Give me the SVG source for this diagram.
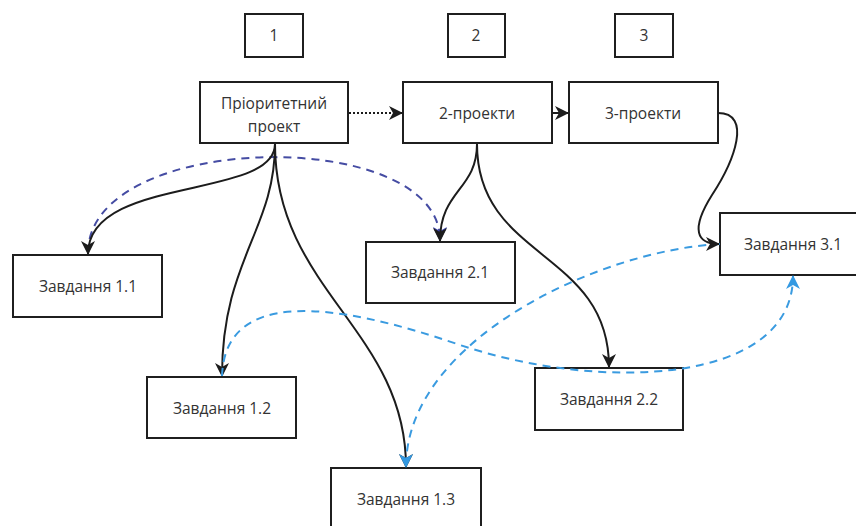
<svg xmlns="http://www.w3.org/2000/svg" width="856" height="526" viewBox="0 0 856 526">
  <style>
    .box { fill: #ffffff; stroke: #1f1f1f; stroke-width: 2; }
    .lbl { font-family: "Open Sans", "Noto Sans", "Liberation Sans", sans-serif; font-size: 15.5px; fill: #333333; text-anchor: middle; dominant-baseline: central; }
    .flow { fill: none; stroke: #1c1c1c; stroke-width: 2; }
    .dot { fill: none; stroke: #1c1c1c; stroke-width: 2; stroke-dasharray: 2 2; }
    .dark { fill: none; stroke: #454ca3; stroke-width: 2; stroke-dasharray: 8 6; }
    .light { fill: none; stroke: #3a9be0; stroke-width: 2; stroke-dasharray: 8 6; }
  </style>
  <defs>
    <marker id="arrBlack" viewBox="0 0 14 14" markerWidth="14" markerHeight="14" refX="13" refY="7" orient="auto" markerUnits="userSpaceOnUse">
      <path d="M0,0 L14,7 L0,14 L4,7 z" fill="#1c1c1c"/>
    </marker>
    <marker id="arrDark" viewBox="0 0 14 14" markerWidth="14" markerHeight="14" refX="13" refY="7" orient="auto" markerUnits="userSpaceOnUse">
      <path d="M0,0 L14,7 L0,14 L4,7 z" fill="#3e45b0"/>
    </marker>
    <marker id="arrLight" viewBox="0 0 14 14" markerWidth="14" markerHeight="14" refX="13" refY="7" orient="auto" markerUnits="userSpaceOnUse">
      <path d="M0,0 L14,7 L0,14 L4,7 z" fill="#3399e2"/>
    </marker>
  </defs>

  <!-- column numbers -->
  <g id="num1"><rect class="box" x="245" y="14" width="58" height="43"/><text class="lbl" x="274" y="35">1</text></g>
  <g id="num2"><rect class="box" x="448" y="14" width="57" height="43"/><text class="lbl" x="476" y="35">2</text></g>
  <g id="num3"><rect class="box" x="615" y="14" width="58" height="43"/><text class="lbl" x="644" y="35">3</text></g>

  <!-- nodes -->
  <g id="priority"><rect class="box" x="200" y="82" width="148" height="61"/><text class="lbl" x="274" y="103">Пріоритетний</text><text class="lbl" x="274" y="126">проект</text></g>
  <g id="projects2"><rect class="box" x="403" y="82" width="149" height="61"/><text class="lbl" x="477" y="113">2-проекти</text></g>
  <g id="projects3"><rect class="box" x="569" y="82" width="149" height="61"/><text class="lbl" x="643" y="113">3-проекти</text></g>

  <g id="task11"><rect class="box" x="13" y="255" width="149" height="62"/><text class="lbl" x="88" y="286">Завдання 1.1</text></g>
  <g id="task21"><rect class="box" x="366" y="242" width="149" height="61"/><text class="lbl" x="440" y="272">Завдання 2.1</text></g>
  <g id="task31"><rect class="box" x="720" y="213" width="149" height="62"/><text class="lbl" x="793" y="244">Завдання 3.1</text></g>
  <g id="task12"><rect class="box" x="147" y="377" width="149" height="61"/><text class="lbl" x="222" y="408">Завдання 1.2</text></g>
  <g id="task22"><rect class="box" x="535" y="368" width="148" height="62"/><text class="lbl" x="609" y="399">Завдання 2.2</text></g>
  <g id="task13"><rect class="box" x="331" y="468" width="150" height="62"/><text class="lbl" x="406" y="499">Завдання 1.3</text></g>

  <!-- connectors -->
  <g id="connectors">
    <path class="dot" d="M349,113 L402,113" marker-end="url(#arrBlack)"/>
    <path class="flow" d="M553,113 L568,113" marker-end="url(#arrBlack)"/>

    <path class="dark" d="M88,253 C88,130 440,125 440,240" marker-end="url(#arrDark)"/>

    <path class="flow" d="M275,144 C275,200 88,175 88,254" marker-end="url(#arrBlack)"/>
    <path class="flow" d="M275,144 C275,230 222,260 222,376" marker-end="url(#arrBlack)"/>
    <path class="flow" d="M275,144 C275,290 406,330 406,467" marker-end="url(#arrBlack)"/>
    <path class="flow" d="M477,144 C477,190 440,190 440,241" marker-end="url(#arrBlack)"/>
    <path class="flow" d="M477,144 C477,260 609,250 609,367" marker-end="url(#arrBlack)"/>

    <path class="light" d="M720,244 C600,250 406,340 406,467" marker-end="url(#arrLight)"/>
    <path class="light" d="M222,376 C225,290 330,300 460,345 C600,392 793,385 793,276" marker-end="url(#arrLight)"/>

    <path class="flow" d="M718,113 C752,113 735,160 712,195 C690,230 697,244 719,244" marker-end="url(#arrBlack)"/>
  </g>
</svg>
